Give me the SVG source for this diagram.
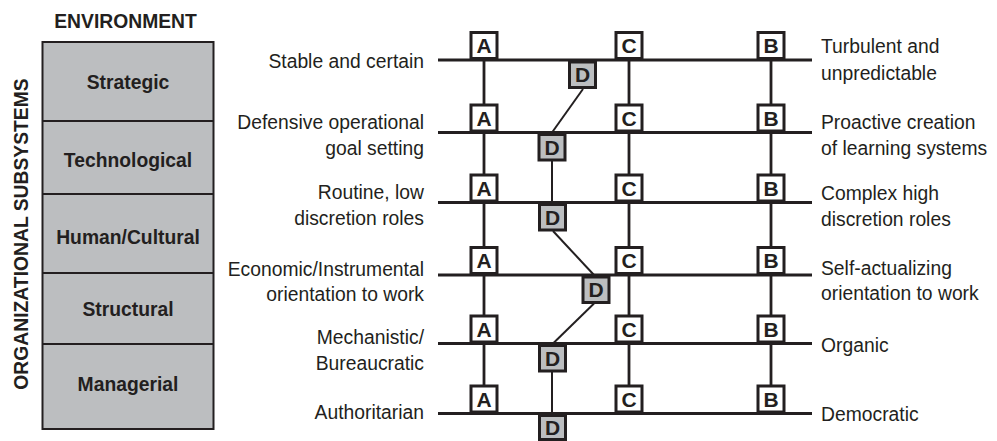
<svg xmlns="http://www.w3.org/2000/svg" width="997" height="441" viewBox="0 0 997 441">
<style>
.t{font-family:"Liberation Sans",Arial,sans-serif;font-size:21px;fill:#231f20}
.b{font-weight:bold}
.e{text-anchor:end}
.m{text-anchor:middle}
.ln{stroke:#231f20;stroke-width:2.8;fill:none}
.cn{stroke:#231f20;stroke-width:2;fill:none}
.wb{fill:#fff;stroke:#231f20;stroke-width:3}
.gb{fill:#bcbec0;stroke:#231f20;stroke-width:3}
.panel{fill:#bcbec0;stroke:#231f20;stroke-width:2}
.lt{font-family:"Liberation Sans",Arial,sans-serif;font-size:21px;font-weight:bold;fill:#231f20;text-anchor:middle}
</style>
<rect width="997" height="441" fill="#fff"/>

<g id="environment-title">
<text class="t b m" transform="translate(125.5,28) scale(0.92,1)">ENVIRONMENT</text>
</g>
<g id="subsystems-title">
<text class="t b m" transform="translate(28,234) rotate(-90) scale(0.92,1)">ORGANIZATIONAL SUBSYSTEMS</text>
</g>

<g id="panel">
<rect class="panel" x="42.5" y="42" width="171" height="387"/>
<line class="cn" x1="42.5" y1="121" x2="213.5" y2="121"/>
<line class="cn" x1="42.5" y1="194" x2="213.5" y2="194"/>
<line class="cn" x1="42.5" y1="273" x2="213.5" y2="273"/>
<line class="cn" x1="42.5" y1="344" x2="213.5" y2="344"/>
</g>
<g id="strategic"><text class="t b m" transform="translate(128,88.5) scale(0.92,1)">Strategic</text></g>
<g id="technological"><text class="t b m" transform="translate(128,167) scale(0.92,1)">Technological</text></g>
<g id="human-cultural"><text class="t b m" transform="translate(128,244) scale(0.92,1)">Human/Cultural</text></g>
<g id="structural"><text class="t b m" transform="translate(128,316) scale(0.92,1)">Structural</text></g>
<g id="managerial"><text class="t b m" transform="translate(128,390.5) scale(0.92,1)">Managerial</text></g>

<g id="scales">
<line class="ln" x1="438" y1="60" x2="812" y2="60"/>
<line class="ln" x1="438" y1="132.5" x2="812" y2="132.5"/>
<line class="ln" x1="438" y1="202.5" x2="812" y2="202.5"/>
<line class="ln" x1="438" y1="275" x2="812" y2="275"/>
<line class="ln" x1="438" y1="343.5" x2="812" y2="343.5"/>
<line class="ln" x1="438" y1="413.5" x2="812" y2="413.5"/>
</g>

<g id="connectors">
<line class="ln" x1="484" y1="60" x2="484" y2="413.5"/>
<line class="ln" x1="629" y1="60" x2="629" y2="413.5"/>
<line class="ln" x1="771" y1="60" x2="771" y2="413.5"/>
<line class="cn" x1="583" y1="89" x2="552" y2="132.5"/>
<line class="cn" x1="552" y1="161" x2="552" y2="202.5"/>
<line class="cn" x1="553" y1="231" x2="594" y2="275"/>
<line class="cn" x1="594" y1="303.5" x2="553" y2="343.5"/>
<line class="cn" x1="552" y1="372" x2="552" y2="413.5"/>
</g>

<g id="left-labels">
<text class="t e" transform="translate(424,68) scale(0.92,1)">Stable and certain</text>
<text class="t e" transform="translate(424,128.5) scale(0.92,1)"><tspan x="0">Defensive operational</tspan><tspan x="0" dy="26.5">goal setting</tspan></text>
<text class="t e" transform="translate(424,199) scale(0.92,1)"><tspan x="0">Routine, low</tspan><tspan x="0" dy="26">discretion roles</tspan></text>
<text class="t e" transform="translate(424,275.5) scale(0.92,1)"><tspan x="0">Economic/Instrumental</tspan><tspan x="0" dy="26">orientation to work</tspan></text>
<text class="t e" transform="translate(424,344) scale(0.92,1)"><tspan x="0">Mechanistic/</tspan><tspan x="0" dy="26.5">Bureaucratic</tspan></text>
<text class="t e" transform="translate(424,418.5) scale(0.92,1)">Authoritarian</text>
</g>

<g id="right-labels">
<text class="t" transform="translate(821,53) scale(0.92,1)"><tspan x="0">Turbulent and</tspan><tspan x="0" dy="27">unpredictable</tspan></text>
<text class="t" transform="translate(821,129) scale(0.92,1)"><tspan x="0">Proactive creation</tspan><tspan x="0" dy="26">of learning systems</tspan></text>
<text class="t" transform="translate(821,200) scale(0.92,1)"><tspan x="0">Complex high</tspan><tspan x="0" dy="26">discretion roles</tspan></text>
<text class="t" transform="translate(821,274.5) scale(0.92,1)"><tspan x="0">Self-actualizing</tspan><tspan x="0" dy="26">orientation to work</tspan></text>
<text class="t" transform="translate(821,352) scale(0.92,1)">Organic</text>
<text class="t" transform="translate(821,421) scale(0.92,1)">Democratic</text>
</g>

<g id="row1-A"><rect class="wb" x="471" y="32.5" width="26" height="26"/><text class="lt" x="484" y="53">A</text></g>
<g id="row1-C"><rect class="wb" x="616" y="32.5" width="26" height="26"/><text class="lt" x="629" y="53">C</text></g>
<g id="row1-B"><rect class="wb" x="758" y="32.5" width="26" height="26"/><text class="lt" x="771" y="53">B</text></g>
<g id="row1-D"><rect class="gb" x="569.5" y="62" width="26" height="25.5"/><text class="lt" x="582.5" y="82">D</text></g>

<g id="row2-A"><rect class="wb" x="471" y="105" width="26" height="26"/><text class="lt" x="484" y="125.5">A</text></g>
<g id="row2-C"><rect class="wb" x="616" y="105" width="26" height="26"/><text class="lt" x="629" y="125.5">C</text></g>
<g id="row2-B"><rect class="wb" x="758" y="105" width="26" height="26"/><text class="lt" x="771" y="125.5">B</text></g>
<g id="row2-D"><rect class="gb" x="539" y="134.5" width="26" height="25.5"/><text class="lt" x="552" y="154.5">D</text></g>

<g id="row3-A"><rect class="wb" x="471" y="175" width="26" height="26"/><text class="lt" x="484" y="195.5">A</text></g>
<g id="row3-C"><rect class="wb" x="616" y="175" width="26" height="26"/><text class="lt" x="629" y="195.5">C</text></g>
<g id="row3-B"><rect class="wb" x="758" y="175" width="26" height="26"/><text class="lt" x="771" y="195.5">B</text></g>
<g id="row3-D"><rect class="gb" x="539.5" y="204.5" width="26" height="25.5"/><text class="lt" x="552.5" y="224.5">D</text></g>

<g id="row4-A"><rect class="wb" x="471" y="247.5" width="26" height="26"/><text class="lt" x="484" y="268">A</text></g>
<g id="row4-C"><rect class="wb" x="616" y="247.5" width="26" height="26"/><text class="lt" x="629" y="268">C</text></g>
<g id="row4-B"><rect class="wb" x="758" y="247.5" width="26" height="26"/><text class="lt" x="771" y="268">B</text></g>
<g id="row4-D"><rect class="gb" x="583" y="277" width="26" height="25.5"/><text class="lt" x="596" y="297">D</text></g>

<g id="row5-A"><rect class="wb" x="471" y="316" width="26" height="26"/><text class="lt" x="484" y="336.5">A</text></g>
<g id="row5-C"><rect class="wb" x="616" y="316" width="26" height="26"/><text class="lt" x="629" y="336.5">C</text></g>
<g id="row5-B"><rect class="wb" x="758" y="316" width="26" height="26"/><text class="lt" x="771" y="336.5">B</text></g>
<g id="row5-D"><rect class="gb" x="539.5" y="345.5" width="26" height="25.5"/><text class="lt" x="552.5" y="365.5">D</text></g>

<g id="row6-A"><rect class="wb" x="471" y="386" width="26" height="26"/><text class="lt" x="484" y="406.5">A</text></g>
<g id="row6-C"><rect class="wb" x="616" y="386" width="26" height="26"/><text class="lt" x="629" y="406.5">C</text></g>
<g id="row6-B"><rect class="wb" x="758" y="386" width="26" height="26"/><text class="lt" x="771" y="406.5">B</text></g>
<g id="row6-D"><rect class="gb" x="539.5" y="415.5" width="26" height="24"/><text class="lt" x="552.5" y="434.5">D</text></g>
</svg>
